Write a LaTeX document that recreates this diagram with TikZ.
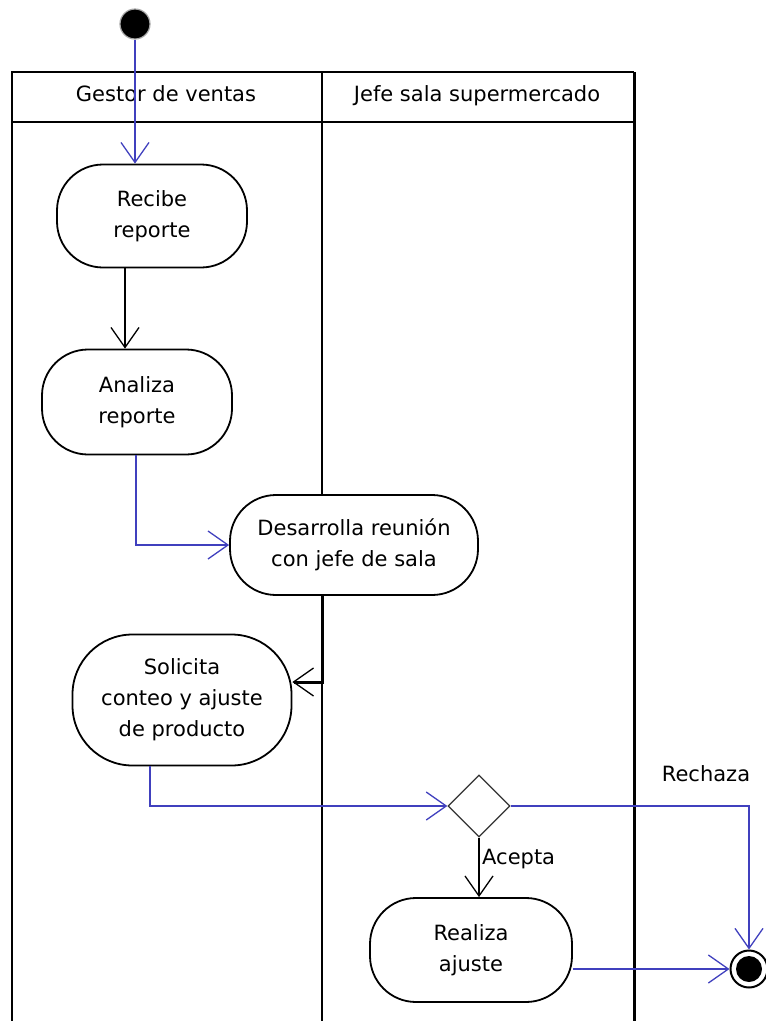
\documentclass[tikz,border=0pt]{standalone}
\usepackage{fontspec}
\setmainfont{DejaVu Sans}
\usetikzlibrary{arrows.meta,shapes.geometric,calc}
\definecolor{flowblue}{RGB}{64,64,190}

\begin{document}
\begin{tikzpicture}[x=1pt,y=-1pt,
  every node/.style={font=\fontsize{21}{31}\selectfont},
  action/.style={draw=black, fill=white, line width=1.8pt, rounded corners=46pt,
                 align=center, inner sep=0pt},
  tip/.style={-{Straight Barb[length=20pt,width=28pt,line width=1.3pt]}},
  bflow/.style={tip, draw=flowblue, line width=1.4pt},
  kflow/.style={tip, draw=black, line width=1.4pt},
  lane/.style={line width=2.3pt, draw=black}]

\useasboundingbox (0,0) rectangle (766,1021);

% swimlanes
\draw[lane] (12,1021) -- (12,72) -- (634,72);
\draw[lane, line width=3pt] (634,72) -- (634,1021);
\draw[lane] (12,122) -- (634,122);
\draw[lane] (322,72) -- (322,1021);
\node[anchor=base] (laneA) at (166,101) {Gestor de ventas};
\node[anchor=base] (laneB) at (477,101) {Jefe sala supermercado};

% start and end
\node[circle, fill=black, draw=gray!70, line width=1.2pt, minimum size=30pt,
      inner sep=0pt] (start) at (135,24) {};
\node[circle, draw=black, line width=2pt, fill=white, minimum size=37pt,
      inner sep=0pt] (fin) at (749,969) {};
\fill[black] (fin.center) circle (13pt);

% actions
\node[action, minimum width=190pt, minimum height=103pt] (recibe) at (152,216) {Recibe\\reporte};
\node[action, minimum width=190pt, minimum height=105pt] (analiza) at (137,402) {Analiza\\reporte};
\node[action, minimum width=248pt, minimum height=100pt] (desarrolla) at (354,545) {Desarrolla reunión\\con jefe de sala};
\node[action, minimum width=219pt, minimum height=131pt, rounded corners=60pt] (solicita) at (182,700) {Solicita\\conteo y ajuste\\de producto};
\node[action, minimum width=202pt, minimum height=104pt] (realiza) at (471,950) {Realiza\\ajuste};

% decision
\node[diamond, draw=black!80, fill=white, line width=1.3pt, minimum width=62pt,
      minimum height=62pt, inner sep=0pt] (dec) at (479,806) {};

% flows
\draw[bflow] (start) -- (start |- recibe.north);
\draw[kflow] ([xshift=-27pt]recibe.south) -- ([xshift=-12pt]analiza.north);
\draw[bflow] ([xshift=-1pt]analiza.south) |- (desarrolla.west);
\draw[kflow, line width=3pt] ([xshift=-32pt]desarrolla.south) |- ([yshift=18pt]solicita.east);
\draw[bflow] ([xshift=-32pt]solicita.south) |- (dec.west);
\draw[kflow] (dec.south) -- (dec.south |- realiza.north);
\draw[bflow] (dec.east) -| (fin.north);
\draw[bflow] ([yshift=-19pt]realiza.east) -- (fin.west);

% guard labels
\node[anchor=west, inner sep=0pt] (acepta) at (482,859) {Acepta};
\node[inner sep=0pt] (rechaza) at (706,774) {Rechaza};
\end{tikzpicture}
\end{document}
